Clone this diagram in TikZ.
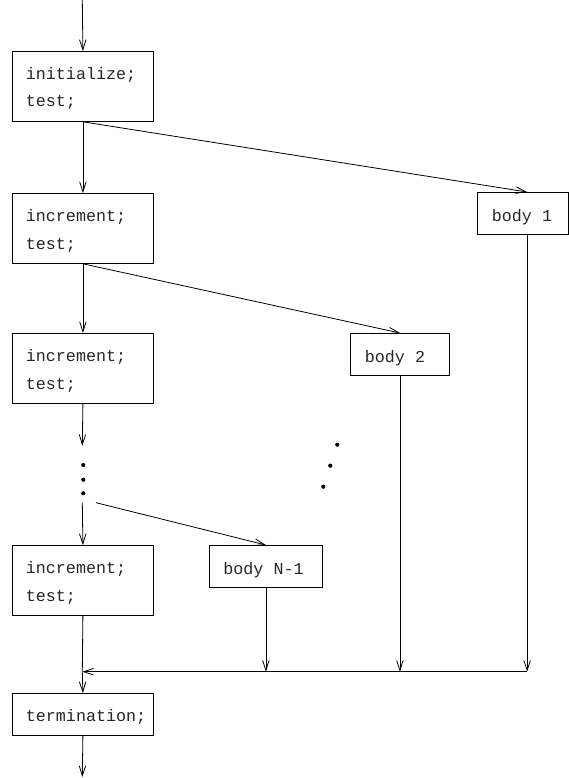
\documentclass[tikz,border=0pt]{standalone}
\usepackage{fontspec}
\setmonofont{Liberation Mono}
\usetikzlibrary{arrows.meta,calc}
\begin{document}
\begin{tikzpicture}[x=1pt,y=-1pt,
  line width=0.8pt,
  flow/.style={-{Straight Barb[length=10pt,width=6.5pt]}},
  plain/.style={-},
  boxnode/.style={draw, rectangle, anchor=north west, inner sep=0pt, minimum width=141pt, minimum height=70pt},
  smallbox/.style={draw, rectangle, anchor=north west, inner sep=0pt, minimum height=42pt},
  txt/.style={anchor=base west, inner sep=0pt, text=black!85, font=\fontsize{16.7}{20}\ttfamily},
  dotmark/.style={fill, circle, inner sep=0pt, minimum size=4.2pt}]
\useasboundingbox (0,0) rectangle (569,778);

% left column boxes
\node[boxnode] (b1) at (12,51) {};
\node[boxnode] (b2) at (12,193) {};
\node[boxnode] (b3) at (12,333) {};
\node[boxnode] (b4) at (12,545) {};
\node[smallbox, minimum width=141pt] (term) at (12,693) {};

\node[txt] (b1a) at (25.5,79.5) {initialize;};
\node[txt] (b1b) at (25.5,107) {test;};
\node[txt] (b2a) at (25.5,221.5) {increment;};
\node[txt] (b2b) at (25.5,249) {test;};
\node[txt] (b3a) at (25.5,361.5) {increment;};
\node[txt] (b3b) at (25.5,389) {test;};
\node[txt] (b4a) at (25.5,573.5) {increment;};
\node[txt] (b4b) at (25.5,601) {test;};
\node[txt] (terma) at (25.5,721.5) {termination;};

% body boxes
\node[smallbox, minimum width=91pt] (body1) at (477,192) {};
\node[smallbox, minimum width=99pt] (body2) at (350,333) {};
\node[smallbox, minimum width=113pt] (bodyn) at (209,545) {};
\node[txt] (body1t) at (491.5,221) {body 1};
\node[txt] (body2t) at (364.5,362) {body 2};
\node[txt] (bodynt) at (223,574) {body N-1};

% dots
\node[dotmark] (d1) at (83.3,465) {};
\node[dotmark] (d2) at (83.3,479.7) {};
\node[dotmark] (d3) at (83.3,493.3) {};
\node[dotmark] (e1) at (337.3,444.7) {};
\node[dotmark] (e2) at (330.3,465.7) {};
\node[dotmark] (e3) at (323.3,486.7) {};

% helper coordinates
\coordinate (start) at (82.3,0);
\coordinate (gapTop) at (82.3,445.7);
\coordinate (gapBot) at (82.3,502.7);
\coordinate (diagStart) at (96,502.7);
\coordinate (m0) at (82.3,671.7);
\coordinate (endpt) at (82.3,777);
\coordinate (b1top) at ($(body1.north west)!0.546!(body1.north east)$);
\coordinate (b1bot) at ($(body1.south west)!0.546!(body1.south east)$);

% main column
\draw[flow] (start) -- (b1.north);
\draw[flow] (b1.south) -- (b2.north);
\draw[flow] (b2.south) -- (b3.north);
\draw[flow] (b3.south) -- (gapTop);
\draw[flow] (gapBot) -- (b4.north);
\draw[plain] (b4.south) -- (m0);
\draw[flow] (m0) -- (term.north);
\draw[flow] (term.south) -- (endpt);

% branches
\draw[flow] (b1.south) -- (b1top);
\draw[flow] (b2.south) -- (body2.north);
\draw[flow] (diagStart) -- (bodyn.north);

% returns
\draw[flow] (b1bot) -- (b1bot |- m0);
\draw[flow] (body2.south) -- (body2.south |- m0);
\draw[flow] (bodyn.south) -- (bodyn.south |- m0);
\draw[flow] (b1bot |- m0) -- (m0);
\end{tikzpicture}
\end{document}
